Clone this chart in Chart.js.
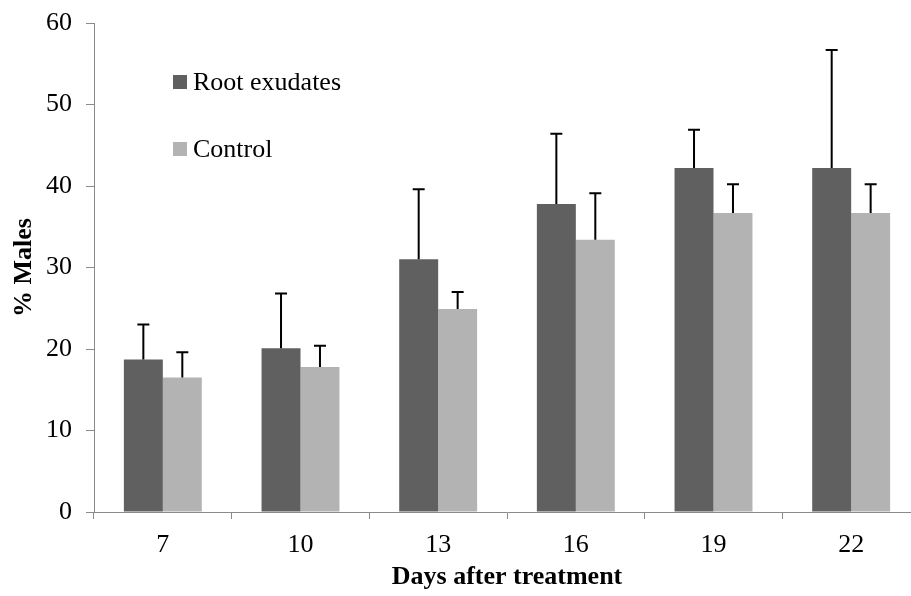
<!DOCTYPE html>
<html>
<head>
<meta charset="utf-8">
<script src="https://cdn.jsdelivr.net/npm/chart.js@4"></script>
<style>
  html, body { margin: 0; padding: 0; background: #fff; overflow: hidden; }
</style>
</head>
<body>
<canvas id="chart" width="930" height="596"></canvas>
<script>
// data
const days = ["7", "10", "13", "16", "19", "22"];
const rootExudates = [18.7, 20.1, 31.0, 37.8, 42.2, 42.2];
const rootErr = [4.3, 6.7, 8.6, 8.6, 4.7, 14.5];
const control = [16.5, 17.8, 24.9, 33.4, 36.7, 36.7];
const controlErr = [3.1, 2.6, 2.1, 5.7, 3.5, 3.5];

const serif = "'Liberation Serif', 'Times New Roman', serif";

// upward-only error bars with a small cap
const errorBars = {
    id: 'errorBars',
    afterDatasetsDraw(chart) {
        const ctx = chart.ctx;
        const yScale = chart.scales.y;
        ctx.save();
        ctx.strokeStyle = '#000';
        ctx.lineWidth = 2;
        chart.data.datasets.forEach((ds, i) => {
            const meta = chart.getDatasetMeta(i);
            meta.data.forEach((bar, j) => {
                const top = yScale.getPixelForValue(ds.data[j] + ds.errors[j]);
                ctx.beginPath();
                ctx.moveTo(bar.x, bar.y);
                ctx.lineTo(bar.x, top);
                ctx.moveTo(bar.x - 6, top);
                ctx.lineTo(bar.x + 6, top);
                ctx.stroke();
            });
        });
        ctx.restore();
    }
};

// legend drawn inside the plot, top left
const innerLegend = {
    id: 'innerLegend',
    afterDraw(chart) {
        const ctx = chart.ctx;
        const area = chart.chartArea;
        ctx.save();
        ctx.font = '26px ' + serif;
        ctx.textBaseline = 'middle';
        chart.data.datasets.forEach((ds, i) => {
            const x = area.left + 79;
            const y = area.top + 52 + i * 67;
            ctx.fillStyle = ds.backgroundColor;
            ctx.fillRect(x, y, 14, 14);
            ctx.fillStyle = '#000';
            ctx.fillText(ds.label, x + 20, y + 8);
        });
        ctx.restore();
    }
};

new Chart(document.getElementById('chart'), {
    type: 'bar',
    data: {
        labels: days,
        datasets: [
            { label: 'Root exudates', data: rootExudates, errors: rootErr, backgroundColor: '#606060' },
            { label: 'Control', data: control, errors: controlErr, backgroundColor: '#b3b3b3' }
        ]
    },
    options: {
        responsive: false,
        animation: false,
        layout: { padding: { left: 0, right: 10, top: 23, bottom: 0 } },
        datasets: { bar: { categoryPercentage: 0.566, barPercentage: 1.0 } },
        plugins: { legend: { display: false }, tooltip: { enabled: false } },
        scales: {
            x: {
                grid: { display: true, drawOnChartArea: false, offset: true, color: '#8a8a8a', tickLength: 7, lineWidth: 1 },
                border: { display: true, color: '#8a8a8a', width: 1 },
                ticks: { color: '#000', font: { family: serif, size: 26 }, padding: 11 },
                title: { display: true, text: 'Days after treatment', color: '#000',
                         font: { family: serif, size: 26, weight: 'bold' }, padding: { top: 0, bottom: 3 } },
                afterFit(scale) { scale.height = 84; }
            },
            y: {
                min: 0, max: 60,
                grid: { display: true, drawOnChartArea: false, color: '#8a8a8a', tickLength: 8, lineWidth: 1 },
                border: { display: true, color: '#8a8a8a', width: 1 },
                ticks: { stepSize: 10, color: '#000', font: { family: serif, size: 26 }, padding: 14 },
                title: { display: true, text: '% Males', color: '#000',
                         font: { family: serif, size: 26, weight: 'bold' }, padding: { top: 9, bottom: 0 } },
                afterFit(scale) {
                    scale.width = 94;
                    scale.paddingTop = 0;
                    scale.paddingBottom = 0;
                }
            }
        }
    },
    plugins: [errorBars, innerLegend]
});
</script>
</body>
</html>
